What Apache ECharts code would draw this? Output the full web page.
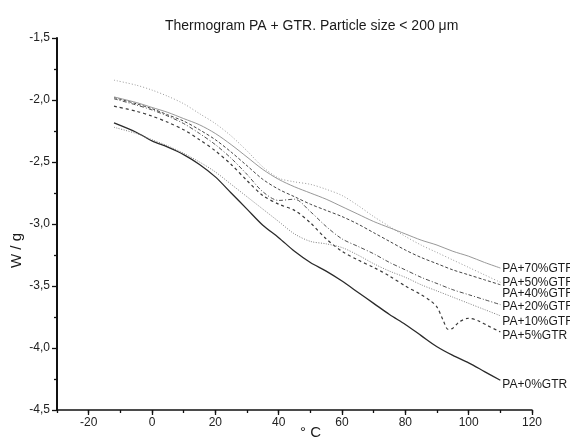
<!DOCTYPE html>
<html><head><meta charset="utf-8">
<script src="https://cdn.jsdelivr.net/npm/echarts@6/dist/echarts.min.js"></script>
<style>html,body{margin:0;padding:0;background:#fff}#c{width:570px;height:439px}</style>
</head><body><div id="c"></div>
<script>
// ---- data ----
var temps = [-12,-5,0,5,10,15,20,25,30,35,40,45,50,55,60,65,70,75,80,85,90,95,100,105,110];
var temps5 = [-12,-5,0,5,10,15,20,25,30,35,40,45,50,55,60,65,70,75,80,85,88,90,92,93.5,95,97,100,103,106,110];
var pa0  = [-2.185,-2.26,-2.33,-2.38,-2.44,-2.52,-2.62,-2.75,-2.88,-3.01,-3.11,-3.22,-3.31,-3.38,-3.46,-3.55,-3.64,-3.73,-3.81,-3.90,-3.99,-4.06,-4.12,-4.19,-4.26];
var pa5  = [-2.05,-2.09,-2.13,-2.18,-2.24,-2.32,-2.41,-2.52,-2.65,-2.77,-2.84,-2.89,-2.99,-3.12,-3.22,-3.29,-3.35,-3.42,-3.50,-3.57,-3.62,-3.67,-3.78,-3.85,-3.84,-3.79,-3.76,-3.78,-3.82,-3.87];
var pa10 = [-2.22,-2.27,-2.32,-2.37,-2.43,-2.50,-2.58,-2.68,-2.78,-2.88,-2.98,-3.08,-3.14,-3.16,-3.19,-3.25,-3.32,-3.38,-3.43,-3.49,-3.54,-3.59,-3.64,-3.69,-3.74];
var pa20 = [-1.99,-2.04,-2.08,-2.13,-2.19,-2.27,-2.36,-2.47,-2.60,-2.74,-2.81,-2.80,-2.90,-3.02,-3.12,-3.18,-3.24,-3.31,-3.37,-3.43,-3.48,-3.53,-3.57,-3.61,-3.65];
var pa40 = [-1.98,-2.03,-2.07,-2.12,-2.17,-2.24,-2.32,-2.42,-2.53,-2.64,-2.72,-2.78,-2.84,-2.89,-2.94,-3.00,-3.07,-3.14,-3.21,-3.27,-3.32,-3.37,-3.41,-3.45,-3.49];
var pa50 = [-1.84,-1.88,-1.92,-1.97,-2.03,-2.11,-2.19,-2.29,-2.41,-2.54,-2.63,-2.66,-2.68,-2.72,-2.77,-2.85,-2.94,-3.02,-3.10,-3.17,-3.23,-3.29,-3.35,-3.41,-3.47];
var pa70 = [-1.975,-2.02,-2.06,-2.10,-2.15,-2.20,-2.27,-2.36,-2.46,-2.56,-2.64,-2.70,-2.75,-2.80,-2.86,-2.92,-2.98,-3.03,-3.08,-3.13,-3.17,-3.22,-3.26,-3.31,-3.355];
var seriesNames = ['PA+0%GTR','PA+5%GTR','PA+10%GTR','PA+20%GTR','PA+40%GTR','PA+50%GTR','PA+70%GTR'];
var xTicks = [-20,0,20,40,60,80,100,120];
var yTicks = [-4.5,-4.0,-3.5,-3.0,-2.5,-2.0,-1.5];
var titleText = 'Thermogram PA + GTR. Particle size < 200 \u03bcm';
var xName = '\u00b0 C';
var yName = 'W / g';

function pairs(xs, ys){ return xs.map(function(x,i){ return [x, ys[i]]; }); }

var FONT = 'Liberation Sans, Arial, sans-serif';
var styles = [
  {c:'#2a2a2a', w:1.3, t:'solid', dy:4},
  {c:'#3a3a3a', w:1.2, t:[3,3], dy:4},
  {c:'#808080', w:1.0, t:[1,1.5], dy:6},
  {c:'#505050', w:1.0, t:[4,2,1,2], dy:2},
  {c:'#444444', w:1.0, t:[3,2], dy:9},
  {c:'#9a9a9a', w:1.0, t:[1,2], dy:0},
  {c:'#8c8c8c', w:0.9, t:'solid', dy:1}
];
var dataSets = [pairs(temps,pa0), pairs(temps5,pa5), pairs(temps,pa10), pairs(temps,pa20), pairs(temps,pa40), pairs(temps,pa50), pairs(temps,pa70)];

var series = dataSets.map(function(d,i){
  var s = styles[i];
  return {
    name: seriesNames[i], type:'line', xAxisIndex:0, yAxisIndex:0,
    data: d, smooth: 0.3, showSymbol:false, silent:true, animation:false,
    lineStyle:{color:s.c, width:s.w, type:s.t},
    endLabel:{show:true, formatter:'{a}', color:'#1a1a1a', fontFamily:FONT, fontSize:12, distance:2, offset:[0,s.dy]}
  };
});

var chart = echarts.init(document.getElementById('c'), null, {renderer:'canvas'});
chart.setOption({
  animation:false,
  backgroundColor:'#fff',
  title:{text:titleText, left:160, top:14, textStyle:{fontFamily:FONT, fontSize:14, fontWeight:'normal', color:'#1a1a1a'}},
  grid:[
    {left:57, right:38, top:38, bottom:29},
    {left:57 + 10*475/150, right:38, top:38, bottom:29}
  ],
  xAxis:[
    {type:'value', gridIndex:0, min:-30, max:120, interval:10,
     axisLine:{onZero:false, lineStyle:{color:'#111', width:1.5}},
     axisTick:{show:true, length:3, inside:false, lineStyle:{color:'#111', width:1.3}},
     axisLabel:{show:false}, splitLine:{show:false}},
    {type:'value', gridIndex:1, min:xTicks[0], max:xTicks[xTicks.length-1], interval:20,
     axisLine:{show:false, onZero:false},
     axisTick:{show:true, length:5, lineStyle:{color:'#111', width:1.3}},
     axisLabel:{show:true, fontFamily:FONT, fontSize:12, color:'#222', margin:7},
     splitLine:{show:false}}
  ],
  yAxis:[
    {type:'value', gridIndex:0, min:yTicks[0], max:yTicks[yTicks.length-1], interval:0.5,
     axisLine:{show:true, onZero:false, lineStyle:{color:'#111', width:2}},
     axisTick:{show:true, length:5, lineStyle:{color:'#111', width:1.3}},
     minorTick:{show:true, splitNumber:2, length:3, lineStyle:{color:'#111', width:1.3}},
     axisLabel:{fontFamily:FONT, fontSize:12, color:'#222', margin:7,
       formatter:function(v){ return v.toFixed(1).replace('.',','); }},
     splitLine:{show:false}},
    {type:'value', gridIndex:1, min:-4.5, max:-1.5, show:false}
  ],
  graphic:[
    {type:'text', left:9, top:233, rotation:Math.PI/2, style:{text:yName, font:'15px '+FONT, fill:'#1a1a1a'}},
    {type:'text', left:300, top:425, style:{text:xName, font:'15px '+FONT, fill:'#1a1a1a'}}
  ],
  series: series
});
</script></body></html>
